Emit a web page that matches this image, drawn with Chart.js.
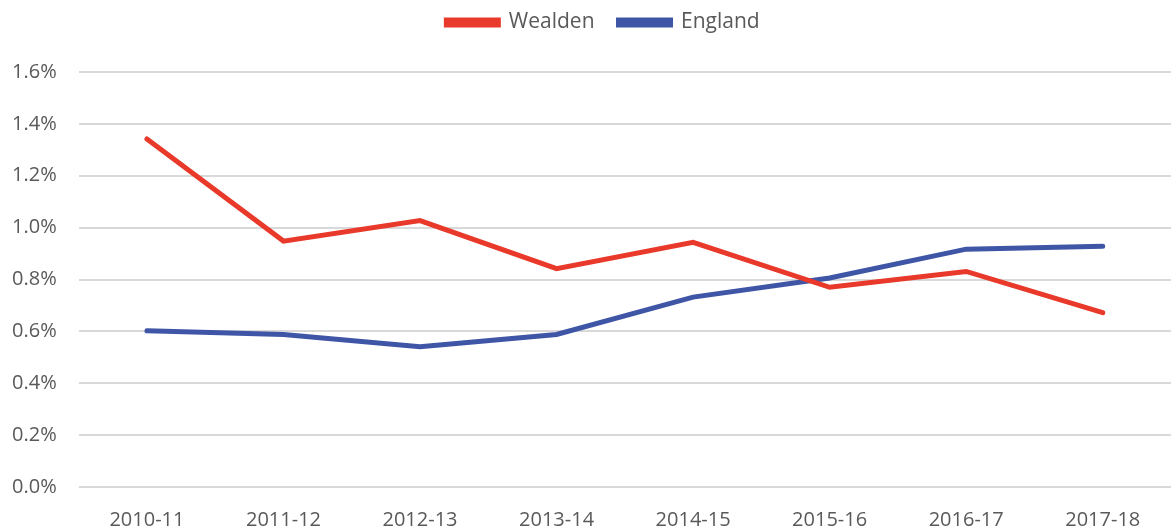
<!DOCTYPE html>
<html>
<head>
<meta charset="utf-8">
<script src="https://cdn.jsdelivr.net/npm/chart.js@4/dist/chart.umd.min.js"></script>
<style>
html,body{margin:0;padding:0;background:#fff;}
#wrap{width:1171px;height:532px;position:relative;}
</style>
</head>
<body>
<div id="wrap"><canvas id="c"></canvas></div>
<script>
const categories = ['2010-11','2011-12','2012-13','2013-14','2014-15','2015-16','2016-17','2017-18'];
const wealden = [1.342, 0.948, 1.027, 0.842, 0.943, 0.770, 0.831, 0.672];
const england = [0.602, 0.588, 0.541, 0.588, 0.732, 0.806, 0.917, 0.928];
const seriesNames = ['Wealden', 'England'];
const seriesColors = ['#E8392A', '#3F56A6'];

Chart.defaults.font.family = '"Open Sans", "Noto Sans", sans-serif';
Chart.defaults.font.size = 20;
Chart.defaults.color = '#595959';

const legendMargin = {
  id: 'legendMargin',
  beforeInit(chart) {
    const origFit = chart.legend.fit;
    chart.legend.fit = function () {
      origFit.bind(chart.legend)();
      this.height += 29;
    };
  },
  afterLayout(chart) {
    chart.legend.left += 20;
    chart.legend.right += 20;
  }
};

new Chart(document.getElementById('c'), {
  type: 'line',
  data: {
    labels: categories,
    datasets: [
      { label: seriesNames[0], data: wealden, borderColor: seriesColors[0], backgroundColor: seriesColors[0], borderWidth: 5, pointRadius: 0, borderCapStyle: 'round', borderJoinStyle: 'miter', tension: 0 },
      { label: seriesNames[1], data: england, borderColor: seriesColors[1], backgroundColor: seriesColors[1], borderWidth: 5, pointRadius: 0, borderCapStyle: 'round', borderJoinStyle: 'miter', tension: 0 }
    ]
  },
  plugins: [legendMargin],
  options: {
    responsive: true,
    maintainAspectRatio: false,
    animation: false,
    layout: { padding: { left: -10, right: -5, top: -12, bottom: -21 } },
    plugins: {
      tooltip: { enabled: false },
      legend: {
        position: 'top',
        labels: {
          boxWidth: 52,
          boxHeight: 5,
          padding: 24,
          font: { size: 21 },
          color: '#595959'
        }
      }
    },
    scales: {
      x: {
        offset: true,
        grid: { display: false, drawTicks: false },
        border: { display: false },
        ticks: { padding: 21, maxRotation: 0, font: { size: 20 } }
      },
      y: {
        min: 0,
        max: 1.6,
        grid: { color: '#d9d9d9', lineWidth: 2, drawTicks: false },
        border: { display: false },
        ticks: {
          stepSize: 0.2,
          padding: 22,
          font: { size: 20 },
          callback: v => v.toFixed(1) + '%'
        }
      }
    }
  }
});
</script>
</body>
</html>
